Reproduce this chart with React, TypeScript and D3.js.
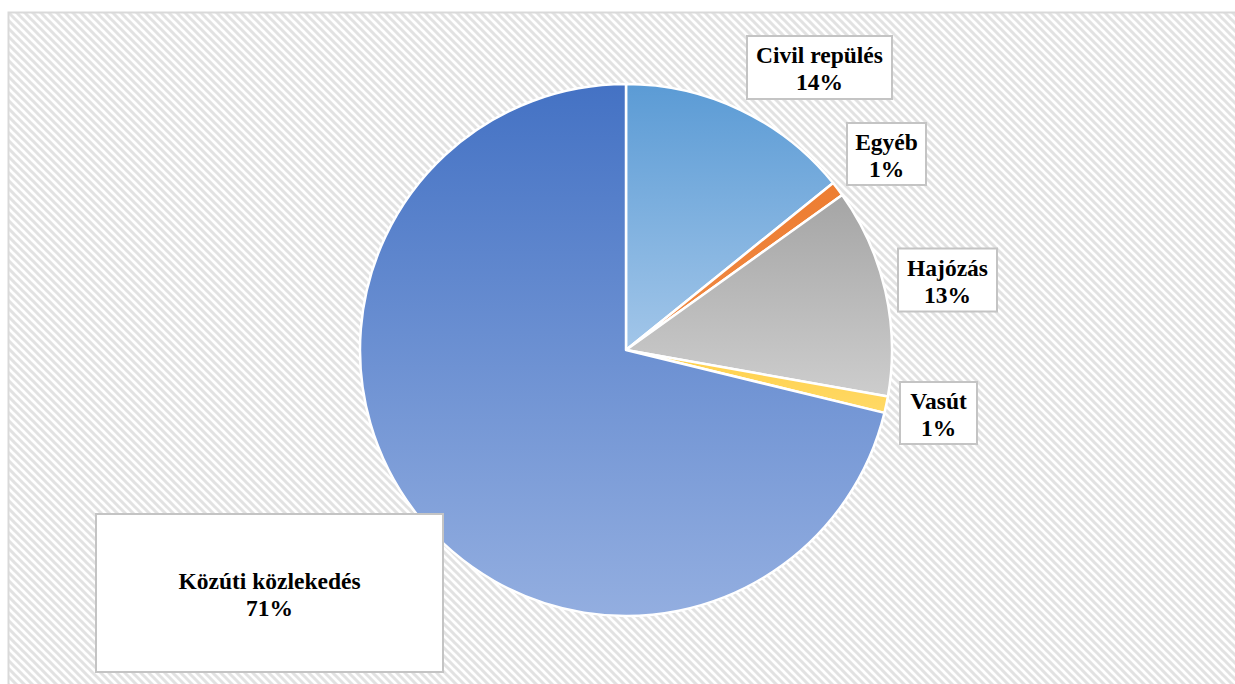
import React from "react";
import * as d3 from "d3";

const categories = ["Civil repülés", "Egyéb", "Hajózás", "Vasút", "Közúti közlekedés"];
const values = [14.2, 0.9, 12.7, 1.0, 71.2];
const percentLabels = ["14%", "1%", "13%", "1%", "71%"];
const topColors = ["#5b9bd5", "#ed7d31", "#a5a5a5", "#ffd04a", "#4472c4"];
const bottomColors = ["#a2c6e9", "#f08a45", "#cdcdcd", "#ffd966", "#93aee0"];

// label box layout (center x, center y, width, height)
const labelBoxes = [
  [819.5, 67.5, 145, 63],
  [886.5, 154, 79, 62],
  [947.5, 280, 99, 63],
  [938.5, 413, 77, 62],
  [269.5, 593, 347, 158],
];

const W = 1235;
const H = 684;
const cx = 626;
const cy = 350;
const radius = 266;

export default function App() {
  const pie = d3
    .pie<number>()
    .sort(null)
    .startAngle(0)
    .endAngle(2 * Math.PI)
    .value((d) => d);
  const arcs = pie(values);
  const arcGen = d3.arc<d3.PieArcDatum<number>>().innerRadius(0).outerRadius(radius);

  return (
    <svg
      width={W}
      height={H}
      style={{ position: "absolute", left: 0, top: 0 }}
      fontFamily="'Liberation Serif', 'Times New Roman', serif"
    >
      <defs>
        <pattern id="hatch" width="8" height="8" patternUnits="userSpaceOnUse" x="8" y="12">
          <rect width="8" height="8" fill="#ffffff" />
          <path d="M-2,2 l4,-4 M0,8 l8,-8 M6,10 l4,-4" stroke="#e2e2e2" strokeWidth="3" transform="scale(-1,1) translate(-8,0)" />
        </pattern>
        {arcs.map((a, i) => (
          <linearGradient key={i} id={`g${i}`} x1="0" y1="0" x2="0" y2="1">
            <stop offset="0" stopColor={topColors[i]} />
            <stop offset="1" stopColor={bottomColors[i]} />
          </linearGradient>
        ))}
      </defs>
      <rect x={8.5} y={12.5} width={1300} height={800} fill="url(#hatch)" stroke="#d9d9d9" strokeWidth={2} />
      <g transform={`translate(${cx},${cy})`}>
        {arcs.map((a, i) => (
          <path key={i} d={arcGen(a) || ""} fill={`url(#g${i})`} stroke="#ffffff" strokeWidth={2.5} strokeLinejoin="round" />
        ))}
      </g>
      {labelBoxes.map(([bx, by, bw, bh], i) => (
        <g key={i}>
          <rect x={bx - bw / 2} y={by - bh / 2} width={bw} height={bh} fill="#ffffff" stroke="#c4c4c4" strokeWidth={2} />
          <text x={bx} y={by - 4.5} textAnchor="middle" fontSize={23.5} fontWeight="bold" fill="#000">
            {categories[i]}
          </text>
          <text x={bx} y={by + 22.5} textAnchor="middle" fontSize={23.5} fontWeight="bold" fill="#000">
            {percentLabels[i]}
          </text>
        </g>
      ))}
    </svg>
  );
}
